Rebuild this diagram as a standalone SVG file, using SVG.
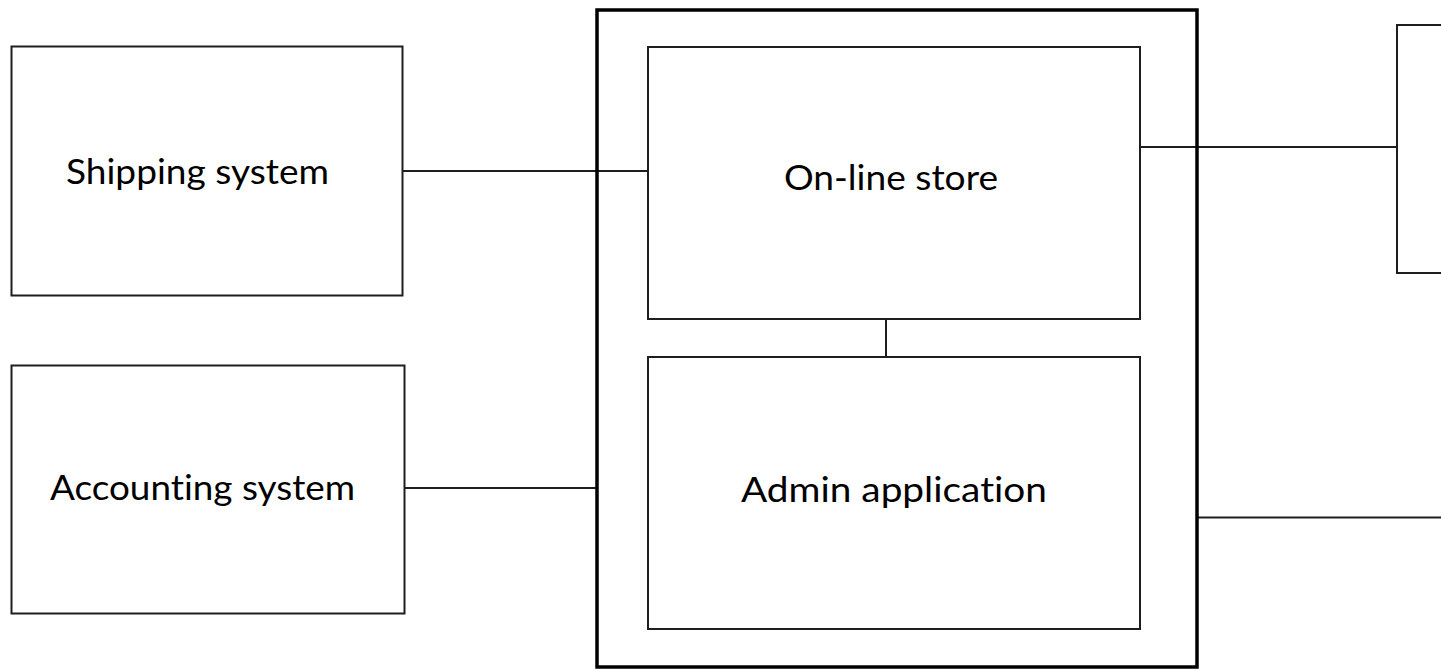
<svg xmlns="http://www.w3.org/2000/svg" width="1441" height="671" viewBox="0 0 1441 671">
  <style>
    .box { fill: #ffffff; stroke: #1e1e1e; stroke-width: 2; }
    .frame { fill: none; stroke: #000000; stroke-width: 3.5; }
    .link { fill: none; stroke: #1e1e1e; stroke-width: 2; }
    .label { font-family: Lato, "Open Sans", "Liberation Sans", sans-serif; font-size: 35px; fill: #000000; font-variant-ligatures: none; }
  </style>
  <rect width="1441" height="671" fill="#ffffff"/>

  <!-- connectors -->
  <g id="connectors">
    <line class="link" x1="402" y1="171" x2="648" y2="171"/>
    <line class="link" x1="404" y1="488" x2="597" y2="488"/>
    <line class="link" x1="1140" y1="147" x2="1397" y2="147"/>
    <line class="link" x1="886" y1="319" x2="886" y2="357"/>
    <line class="link" x1="1197" y1="517.5" x2="1441" y2="517.5"/>
  </g>

  <g id="shipping-system">
    <rect class="box" x="11.5" y="46.5" width="391" height="249"/>
    <text class="label" x="66" y="184" textLength="263" lengthAdjust="spacingAndGlyphs">Shipping system</text>
  </g>

  <g id="accounting-system">
    <rect class="box" x="11.5" y="365.5" width="393" height="248"/>
    <text class="label" x="50" y="500" textLength="305" lengthAdjust="spacingAndGlyphs">Accounting system</text>
  </g>

  <g id="store-platform">
    <rect class="frame" x="597" y="10" width="600" height="657"/>
  </g>

  <g id="online-store">
    <rect class="box" x="648" y="47" width="492" height="272"/>
    <text class="label" x="784" y="190" textLength="214" lengthAdjust="spacingAndGlyphs">On-line store</text>
  </g>

  <g id="admin-application">
    <rect class="box" x="648" y="357" width="492" height="272"/>
    <text class="label" x="741" y="502" textLength="306" lengthAdjust="spacingAndGlyphs">Admin application</text>
  </g>

  <g id="external-system">
    <rect class="box" x="1397" y="25" width="100" height="248"/>
  </g>
</svg>
